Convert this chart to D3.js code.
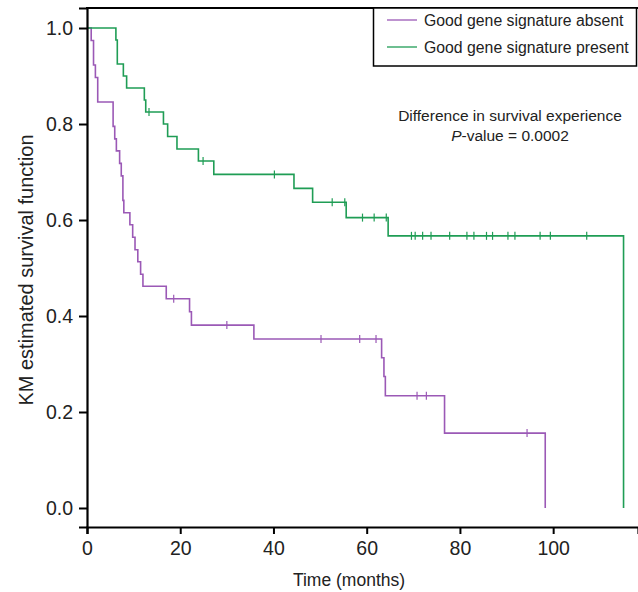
<!DOCTYPE html>
<html><head><meta charset="utf-8">
<script src="https://cdn.jsdelivr.net/npm/d3@7"></script>
<style>body{margin:0;background:#fff}svg{display:block;font-family:"Liberation Sans",Arial,sans-serif}</style>
</head><body><svg id="c" width="638" height="592"></svg>
<script>
// Step drops: [time, survival after drop]
const absentSteps = [[0.9,0.974],[1.4,0.923],[1.8,0.897],[2.3,0.846],[5.6,0.795],[5.95,0.769],[6.3,0.744],[7.0,0.718],[7.35,0.692],[7.7,0.641],[7.9,0.615],[9.2,0.590],[9.8,0.564],[10.3,0.538],[10.9,0.513],[11.5,0.487],[12.0,0.462],[17.0,0.436],[22.0,0.409],[22.4,0.381],[35.8,0.352],[63.2,0.313],[63.7,0.274],[64.0,0.234],[76.7,0.156],[98.3,0.0]];
const absentCensor = [18.6,30.0,50.2,58.5,62.0,70.8,72.8,94.4];
const presentSteps = [[6.2,0.975],[6.5,0.925],[7.8,0.900],[8.5,0.875],[12.3,0.850],[12.6,0.825],[16.4,0.800],[17.3,0.774],[19.3,0.748],[23.9,0.723],[27.2,0.695],[44.4,0.666],[48.4,0.637],[55.6,0.605],[64.6,0.567],[115.1,0.0]];
const presentCensor = [13.3,24.9,40.2,52.6,55.3,59.1,61.6,64.2,69.6,70.4,72.0,73.8,77.8,81.5,83.0,85.7,87.0,90.3,91.8,97.2,99.4,107.2];
const xTicks = [0,20,40,60,80,100];
const yTicks = [0.0,0.2,0.4,0.6,0.8,1.0];
const seriesNames = ["Good gene signature absent","Good gene signature present"];
const colors = ["#9b59b6","#1f9d55"];

const svg = d3.select("#c");
const x = d3.scaleLinear().domain([0,118.2]).range([87,638]);
const y = d3.scaleLinear().domain([-0.0396,1.0417]).range([527,8]);

function stepPoints(steps){
  const pts=[[0,1]]; let s=1;
  steps.forEach(([t,v])=>{pts.push([t,s]);pts.push([t,v]);s=v;});
  return pts;
}
function survAt(steps,t){let s=1;steps.forEach(([tt,v])=>{if(tt<=t)s=v;});return s;}
const line = d3.line().x(d=>x(d[0])).y(d=>y(d[1]));

[[absentSteps,absentCensor],[presentSteps,presentCensor]].forEach(([st,ce],i)=>{
  svg.append("path").attr("d",line(stepPoints(st))).attr("fill","none")
    .attr("stroke",colors[i]).attr("stroke-width",1.6);
  svg.selectAll(null).data(ce).enter().append("line")
    .attr("x1",d=>x(d)).attr("x2",d=>x(d))
    .attr("y1",d=>y(survAt(st,d))-4).attr("y2",d=>y(survAt(st,d))+4)
    .attr("stroke",colors[i]).attr("stroke-width",1.2);
});

// axes
const yAxis = svg.append("g").attr("transform","translate(87,0)")
  .call(d3.axisLeft(y).tickValues(yTicks).tickFormat(d3.format(".1f")).tickSize(8).tickPadding(6));
const xAxis = svg.append("g").attr("transform","translate(0,527)")
  .call(d3.axisBottom(x).tickValues(xTicks).tickFormat(d3.format("d")).tickSize(7).tickPadding(7));
[yAxis,xAxis].forEach(g=>{
  g.select(".domain").attr("stroke","#000").attr("stroke-width",2.2);
  g.selectAll(".tick line").attr("stroke","#000").attr("stroke-width",2);
  g.selectAll(".tick text").attr("fill","#222").style("font-size","19.5px").style("font-family","Liberation Sans, Arial, sans-serif");
});
// top border
svg.append("line").attr("x1",86).attr("x2",638).attr("y1",8).attr("y2",8).attr("stroke","#000").attr("stroke-width",2);

svg.append("text").attr("x",349).attr("y",586).attr("text-anchor","middle")
  .style("font-size","17.5px").attr("fill","#222").text("Time (months)");
svg.append("text").attr("transform","translate(33,270) rotate(-90)").attr("text-anchor","middle")
  .style("font-size","20px").attr("fill","#222").text("KM estimated survival function");

// legend
svg.append("rect").attr("x",373.5).attr("y",8).attr("width",263).attr("height",58)
  .attr("fill","#fff").attr("stroke","#000").attr("stroke-width",1.5);
seriesNames.forEach((n,i)=>{
  const yy = 20 + i*27;
  svg.append("line").attr("x1",387).attr("x2",417).attr("y1",yy).attr("y2",yy).attr("stroke",colors[i]).attr("stroke-width",1.3);
  svg.append("text").attr("x",424).attr("y",yy+5.5).style("font-size","15.8px").attr("fill","#222").text(n);
});

// annotation
svg.append("text").attr("x",510).attr("y",121).attr("text-anchor","middle").style("font-size","15.5px").attr("fill","#222")
  .text("Difference in survival experience");
const t2 = svg.append("text").attr("x",510).attr("y",141).attr("text-anchor","middle").style("font-size","15.5px").attr("fill","#222");
t2.append("tspan").style("font-style","italic").text("P");
t2.append("tspan").text("-value = 0.0002");
</script></body></html>
